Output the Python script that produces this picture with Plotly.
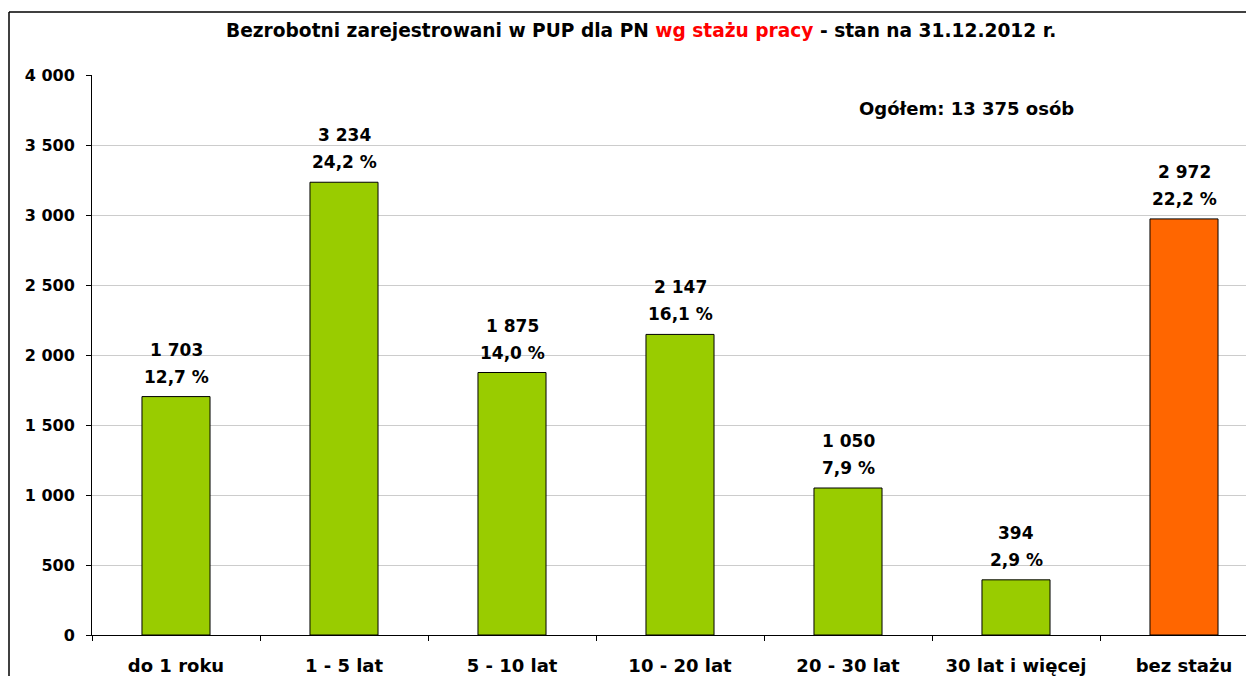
import plotly.graph_objects as go

categories = ["do 1 roku", "1 - 5 lat", "5 - 10 lat", "10 - 20 lat", "20 - 30 lat", "30 lat i więcej", "bez stażu"]
values = [1703, 3234, 1875, 2147, 1050, 394, 2972]
percents = ["12,7 %", "24,2 %", "14,0 %", "16,1 %", "7,9 %", "2,9 %", "22,2 %"]
colors = ["#99CC00"] * 6 + ["#FF6600"]
y_ticks = [0, 500, 1000, 1500, 2000, 2500, 3000, 3500, 4000]

FONT = "DejaVu Sans"
OFF = 8  # page body margin
W, H = 1254 - OFF, 676 - OFF
L, R, T, B = 92 - OFF, 0, 75 - OFF, 41

fig = go.Figure()
fig.add_trace(go.Bar(
    x=categories, y=values,
    marker=dict(color=colors, line=dict(color="black", width=1)),
    width=0.405, hoverinfo="skip",
))

def fmt(v):
    return f"{v:,}".replace(",", " ")

annotations = []
for c, v, p in zip(categories, values, percents):
    annotations.append(dict(x=c, y=v, text=fmt(v), showarrow=False, yanchor="middle",
                            yshift=47, font=dict(family=FONT, size=17, color="black", weight="bold")))
    annotations.append(dict(x=c, y=v, text=p, showarrow=False, yanchor="middle",
                            yshift=20, font=dict(family=FONT, size=17, color="black", weight="bold")))

pw = W - L - R
ph = H - T - B
annotations.append(dict(xref="paper", yref="paper", x=(966 - OFF - L) / pw, y=1 - (108 - 75) / ph,
                        text="Ogółem: 13 375 osób", showarrow=False, xanchor="center", yanchor="middle",
                        font=dict(family=FONT, size=18, color="black", weight="bold")))
annotations.append(dict(xref="paper", yref="paper", x=(641 - OFF - L) / pw, y=1 + (75 - 30) / ph,
                        text="Bezrobotni zarejestrowani w PUP dla PN <span style='color:#FF0000'>wg stażu pracy</span> - stan na 31.12.2012 r.",
                        showarrow=False, xanchor="center", yanchor="middle",
                        font=dict(family=FONT, size=18.6, color="black", weight="bold")))

x_right = 6.5 - (92 + 7 * 168 - 1254) / 168

fig.update_layout(
    width=W, height=H,
    margin=dict(l=L, r=R, t=T, b=B, pad=0),
    paper_bgcolor="white", plot_bgcolor="white",
    showlegend=False,
    annotations=annotations,
    xaxis=dict(
        type="category", range=[-0.5, x_right],
        showline=True, linecolor="black", linewidth=1,
        ticks="outside", tickson="boundaries", ticklen=5, tickcolor="black",
        showgrid=False, ticklabelstandoff=14,
        tickfont=dict(family=FONT, size=18, color="black", weight="bold"),
    ),
    yaxis=dict(
        range=[0, 4000], tickvals=y_ticks, ticktext=[fmt(t) for t in y_ticks],
        showline=True, linecolor="black", linewidth=1,
        ticks="outside", ticklen=5, tickcolor="black",
        showgrid=True, gridcolor="#CCCCCC", gridwidth=1,
        zeroline=False, ticklabelstandoff=8,
        tickfont=dict(family=FONT, size=16, color="black", weight="bold"),
    ),
    shapes=[
        dict(type="line", xref="paper", yref="paper",
             x0=(9 - 92) / pw, x1=1.02, y0=1 + (75 - 12) / ph, y1=1 + (75 - 12) / ph,
             line=dict(color="black", width=1.5)),
        dict(type="line", xref="paper", yref="paper",
             x0=(9 - 92) / pw, x1=(9 - 92) / pw, y0=1 + (75 - 12) / ph, y1=-0.2,
             line=dict(color="black", width=1.5)),
    ],
)

fig.write_html("out.html")
